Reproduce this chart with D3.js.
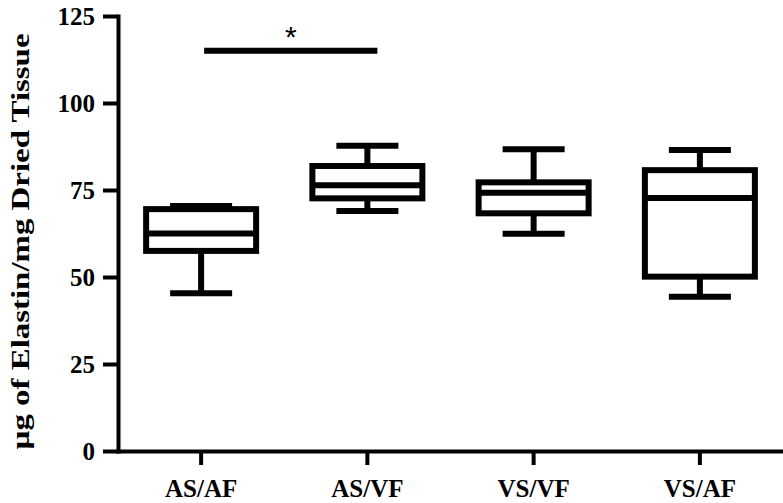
<!DOCTYPE html>
<html>
<head>
<meta charset="utf-8">
<script src="https://cdn.jsdelivr.net/npm/d3@7"></script>
<style>
  html, body { margin: 0; padding: 0; background: #fff; }
  svg { display: block; }
  .serif { font-family: "Liberation Serif", "Times New Roman", Times, serif; font-weight: bold; }
  .sans { font-family: "Liberation Sans", Arial, Helvetica, sans-serif; }
</style>
</head>
<body>
<svg id="chart" width="783" height="503"></svg>
<script>
const categories = ["AS/AF", "AS/VF", "VS/VF", "VS/AF"];
const minVals    = [45.3, 69.0, 62.4, 44.3];
const q1Vals     = [57.5, 72.6, 68.3, 50.1];
const medianVals = [62.5, 76.4, 74.2, 72.7];
const q3Vals     = [69.5, 81.9, 77.2, 80.7];
const maxVals    = [70.4, 87.7, 86.7, 86.5];
const yTicks     = [0, 25, 50, 75, 100, 125];
const sigPair    = ["AS/AF", "AS/VF"];
const sigLevel   = 115;
const sigLabel   = "*";
const yTitle     = "µg of Elastin/mg Dried Tissue";

const svg = d3.select("#chart");
const x = d3.scaleBand().domain(categories).range([118, 783]).padding(0);
const y = d3.scaleLinear().domain([0, 125]).range([451, 16]);
const cx = c => x(c) + x.bandwidth() / 2;

// Y axis
const yAxis = svg.append("g").attr("transform", "translate(118,0)")
  .call(d3.axisLeft(y).tickValues(yTicks).tickSize(15).tickSizeOuter(0).tickPadding(8));
yAxis.attr("font-family", null).attr("font-size", null);
yAxis.select(".domain").attr("stroke-width", 4).attr("stroke-linecap", "square");
yAxis.selectAll(".tick line").attr("stroke-width", 4);
yAxis.selectAll(".tick text")
  .attr("class", "serif").style("font-size", "25px")
  .attr("fill", "#000").attr("dy", "0.34em");

// X axis
const xAxis = svg.append("g").attr("transform", "translate(0,451)")
  .call(d3.axisBottom(x).tickSize(14).tickSizeOuter(0).tickPadding(14));
xAxis.attr("font-family", null).attr("font-size", null);
xAxis.select(".domain").attr("stroke-width", 4).attr("stroke-linecap", "square");
xAxis.selectAll(".tick line").attr("stroke-width", 4);
xAxis.selectAll(".tick text")
  .attr("class", "serif").style("font-size", "25px")
  .attr("fill", "#000");

// Y title
svg.append("text")
  .attr("class", "serif")
  .attr("transform", `translate(29,${(y(0) + y(125)) / 2 + 8}) rotate(-90)`)
  .attr("text-anchor", "middle")
  .style("font-size", "25px")
  .attr("textLength", 416).attr("lengthAdjust", "spacingAndGlyphs")
  .text(yTitle);

// Boxes
const boxW = 110, capW = 62, sw = 6;
const data = categories.map((c, i) => ({
  c, min: minVals[i], q1: q1Vals[i], med: medianVals[i], q3: q3Vals[i], max: maxVals[i]
}));
const g = svg.append("g").attr("stroke", "#000").attr("stroke-width", sw).attr("fill", "none");
data.forEach(d => {
  const xc = cx(d.c);
  g.append("line").attr("x1", xc).attr("x2", xc).attr("y1", y(d.q3)).attr("y2", y(d.max));
  g.append("line").attr("x1", xc).attr("x2", xc).attr("y1", y(d.q1)).attr("y2", y(d.min));
  g.append("line").attr("x1", xc - capW / 2).attr("x2", xc + capW / 2).attr("y1", y(d.max)).attr("y2", y(d.max));
  g.append("line").attr("x1", xc - capW / 2).attr("x2", xc + capW / 2).attr("y1", y(d.min)).attr("y2", y(d.min));
  g.append("rect").attr("x", xc - boxW / 2).attr("width", boxW)
    .attr("y", y(d.q3)).attr("height", y(d.q1) - y(d.q3)).attr("fill", "#fff");
  g.append("line").attr("x1", xc - boxW / 2).attr("x2", xc + boxW / 2).attr("y1", y(d.med)).attr("y2", y(d.med));
});

// Significance bar
const sx1 = cx(sigPair[0]) + 3, sx2 = cx(sigPair[1]) + 10;
svg.append("line").attr("x1", sx1).attr("x2", sx2).attr("y1", y(sigLevel)).attr("y2", y(sigLevel))
  .attr("stroke", "#000").attr("stroke-width", 6);
svg.append("text").attr("class", "sans")
  .attr("x", (sx1 + sx2) / 2).attr("y", y(sigLevel) - 4)
  .attr("text-anchor", "middle")
  .style("font-size", "30px")
  .text(sigLabel);
</script>
</body>
</html>
